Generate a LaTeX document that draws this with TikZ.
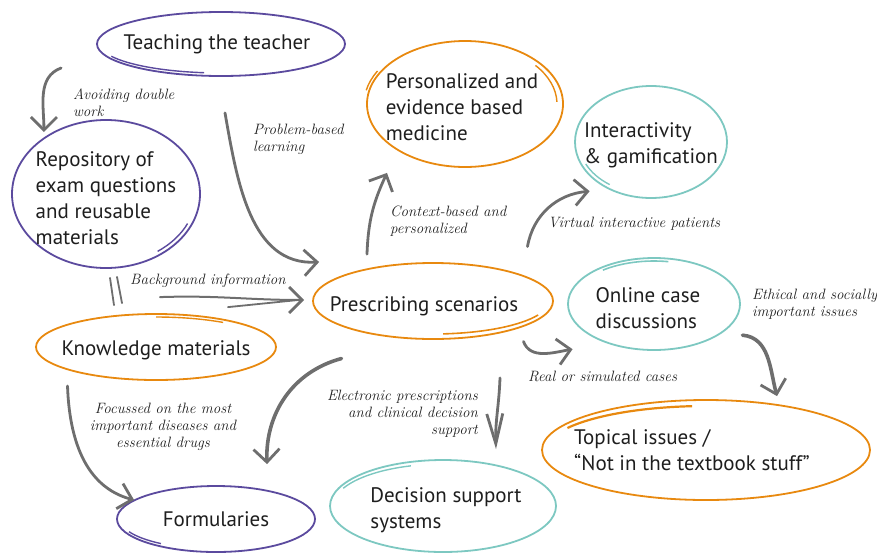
\documentclass[tikz,border=0pt]{standalone}
\usepackage{fontspec}
\setsansfont{PT Sans}
\usetikzlibrary{shapes.geometric,arrows.meta}
\definecolor{vpurple}{HTML}{5B4A9E}
\definecolor{vorange}{HTML}{E8890F}
\definecolor{vteal}{HTML}{7DC8C1}
\definecolor{agrey}{HTML}{6E6E6E}
\definecolor{txt}{HTML}{1E1E1E}
\tikzset{
  bub/.style={ellipse,draw=#1,line width=1.8pt,inner sep=0pt},
  every label/.style={font=\sffamily\fontsize{21}{26}\selectfont,text=txt,align=left},
  flow/.style={draw=agrey,line width=2.8pt,line cap=round,
    -{Straight Barb[length=13pt,width=26pt,line width=2.8pt]}},
  twin/.style={draw=agrey,line width=1.8pt,line cap=round},
  note/.style={font=\rmfamily\itshape\fontsize{15}{17}\selectfont\addfontfeature{LetterSpace=6},
    text=txt,inner sep=0pt},
}
\begin{document}
\begin{tikzpicture}[x=1pt,y=1pt]
\useasboundingbox (0,0) rectangle (877,-552);

% bubbles
\node[bub=vpurple,minimum width=248pt,minimum height=64pt,
  label={[xshift=-4pt]center:Teaching the teacher}] (teach) at (221,-44) {};
\node[bub=vorange,minimum width=196pt,minimum height=126pt,
  label={[xshift=-3pt,yshift=-3pt]center:Personalized and\\evidence based\\medicine}] (pers) at (465,-104) {};
\node[bub=vteal,minimum width=152pt,minimum height=112pt,
  label={[yshift=-3pt]center:Interactivity\\\&{} gamification}] (inter) at (651,-142) {};
\node[bub=vpurple,minimum width=188pt,minimum height=148pt,
  label={[yshift=-4pt]center:Repository of\\exam questions\\and reusable\\materials}] (rep) at (106,-194) {};
\node[bub=vorange,minimum width=240pt,minimum height=76pt,
  label={[xshift=-9pt,yshift=-5pt]center:Prescribing scenarios}] (presc) at (433,-301) {};
\node[bub=vteal,minimum width=172pt,minimum height=92pt,
  label={[xshift=-6pt,yshift=-4pt]center:Online case\\discussions}] (online) at (654,-304) {};
\node[bub=vorange,minimum width=240pt,minimum height=66pt,
  label={[yshift=-3pt]center:Knowledge materials}] (know) at (156,-347) {};
\node[bub=vorange,minimum width=328pt,minimum height=100pt,
  label={[xshift=-14pt]center:Topical issues /\\``Not in the textbook stuff''}] (topic) at (706,-450) {};
\node[bub=vteal,minimum width=226pt,minimum height=92pt,
  label={[xshift=3pt,yshift=-4pt]center:Decision support\\systems}] (dss) at (443,-506) {};
\node[bub=vpurple,minimum width=198pt,minimum height=66pt,
  label={center:Formularies}] (form) at (216,-519) {};

% second strokes
\draw[vpurple,line width=1.4pt] (teach.center) ++(205:121 and 29) arc[start angle=205,end angle=262,x radius=121,y radius=29];
\draw[vorange,line width=1.4pt] (pers.center) ++(40:92 and 60) arc[start angle=40,end angle=2,x radius=92,y radius=60];
\draw[vorange,line width=1.4pt] (pers.center) ++(150:101 and 66) arc[start angle=150,end angle=168,x radius=101,y radius=66];
\draw[vteal,line width=1.4pt] (inter.center) ++(205:72 and 52) arc[start angle=205,end angle=235,x radius=72,y radius=52];
\draw[vpurple,line width=1.4pt] (rep.center) ++(-55:90 and 70) arc[start angle=-55,end angle=-25,x radius=90,y radius=70];
\draw[vorange,line width=1.6pt] (presc.center) ++(-85:116 and 33) arc[start angle=-85,end angle=-25,x radius=116,y radius=33];
\draw[vteal,line width=1.6pt] (online.center) ++(80:83 and 43) arc[start angle=80,end angle=128,x radius=83,y radius=43];
\draw[vorange,line width=1.4pt] (know.center) ++(55:117 and 30) arc[start angle=55,end angle=90,x radius=117,y radius=30];
\draw[vorange,line width=2.2pt] (topic.center) ++(95:160 and 44) arc[start angle=95,end angle=150,x radius=160,y radius=44];
\draw[vteal,line width=1.4pt] (dss.center) ++(107:110 and 42) arc[start angle=107,end angle=155,x radius=110,y radius=42];
\draw[vpurple,line width=1.4pt] (form.center) ++(205:96 and 30) arc[start angle=205,end angle=235,x radius=96,y radius=30];

% arrows
\draw[flow] ([shift={(-35,-24)}]teach.west) to[out=200,in=90] ([shift={(-2,4)}]rep.136);
\draw[flow] ([shift={(4,-36)}]teach.south) to[out=-80,in=183] ([shift={(7,39)}]presc.west);
\draw[twin] ([shift={(4,-9)}]rep.south) -- ([shift={(-42,8)}]know.north);
\draw[twin] ([shift={(11,-8)}]rep.south) -- ([shift={(-34,10)}]know.north);
\draw[flow,line width=2pt] ([shift={(4,16)}]know.north) to[out=2,in=180] ([shift={(-8,1)}]presc.west);
\draw[twin] ([shift={(72,6)}]know.north) -- ([shift={(-14,1)}]presc.west);
\draw[flow] ([shift={(-66,8)}]presc.north) to[out=88,in=245] ([shift={(-78,-5)}]pers.south);
\draw[flow] ([shift={(9,27)}]presc.north east) to[out=80,in=185] ([shift={(-7,-9)}]inter.south west);
\draw[flow] ([shift={(5,-13)}]presc.south east) to[out=-70,in=190] ([shift={(-20,-12)}]online.south west);
\draw[flow,line width=3.6pt] ([shift={(27,2)}]online.south east) to[out=-5,in=105] ([shift={(71,3)}]topic.north);
\draw[flow,-{Straight Barb[length=30pt,width=16pt,line width=2.8pt]}]
  ([shift={(67,-38)}]presc.south) to[out=-92,in=92] ([shift={(53,10)}]dss.north);
\draw[flow,line width=3.6pt] ([shift={(-6,-30)}]presc.south west) to[out=195,in=92] ([shift={(51,21)}]form.north);
\draw[flow] ([shift={(-3,-15)}]know.south west) to[out=-88,in=165] ([shift={(18,19)}]form.west);

% notes
\node[note,anchor=west,align=left] (navoid) at (73,-103) {Avoiding double\\work};
\node[note,anchor=west,align=left] (nprob) at (253,-139) {Problem-based\\learning};
\node[note,anchor=west] (nback) at (130,-281) {Background information};
\node[note,anchor=west,align=left] (ncont) at (390,-221) {Context-based and\\personalized};
\node[note,anchor=west] (nvirt) at (548,-224) {Virtual interactive patients};
\node[note,anchor=west,align=left] (neth) at (752,-304) {Ethical and socially\\important issues};
\node[note,anchor=west] (nreal) at (528,-376) {Real or simulated cases};
\node[note,anchor=east,align=right] (nelec) at (478,-414) {Electronic prescriptions\\and clinical decision\\support};
\node[note,align=center] (nfoc) at (163,-427) {Focussed on the most\\important diseases and\\essential drugs};
\end{tikzpicture}
\end{document}
